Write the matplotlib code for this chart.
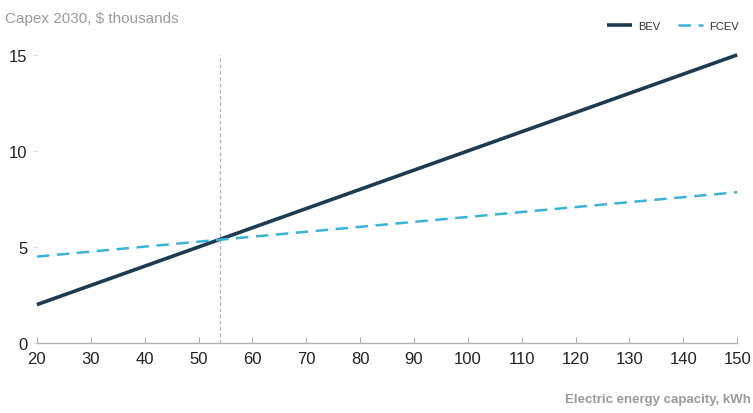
import matplotlib
matplotlib.use('Agg')
import matplotlib.pyplot as plt
from matplotlib import font_manager

# Font: narrow sans if available
names = {f.name for f in font_manager.fontManager.ttflist}
narrow = 'Liberation Sans Narrow' if 'Liberation Sans Narrow' in names else 'Liberation Sans'
plt.rcParams['font.family'] = [narrow, 'DejaVu Sans']

# Data
capacity_kwh = [20, 54, 150]
bev_capex = [2.0, 5.4, 15.0]
fcev_capex = [4.5, 5.38, 7.85]
crossover_kwh = 54
x_ticks = list(range(20, 151, 10))
y_ticks = [0, 5, 10, 15]

bev_color = '#1d3b50'
fcev_color = '#3bb3d6'
axis_gray = '#b0b0b0'
text_gray = '#9a9a9a'

fig = plt.figure(figsize=(7.53, 4.14), dpi=100, facecolor='white')
ax = fig.add_axes([0.049, 0.169, 0.930, 0.696])

ax.plot(capacity_kwh, bev_capex, color=bev_color, lw=2.6, label='BEV',
        solid_capstyle='butt', clip_on=False)
ax.plot(capacity_kwh, fcev_capex, color=fcev_color, lw=1.8, ls=(0, (5, 3)),
        label='FCEV', clip_on=False)
ax.axvline(crossover_kwh, color='#b4b4b4', lw=0.9, ls=(0, (3, 2)), zorder=0)

ax.set_xlim(20, 150)
ax.set_ylim(0, 15)
ax.set_xticks(x_ticks)
ax.set_yticks(y_ticks)

for s in ['top', 'right', 'left']:
    ax.spines[s].set_visible(False)
ax.spines['bottom'].set_color(axis_gray)
ax.spines['bottom'].set_linewidth(1.0)

ax.tick_params(axis='x', direction='in', length=4, color=axis_gray,
               labelsize=12, labelcolor='#222222', pad=6)
ax.tick_params(axis='y', direction='out', length=3, color='#dddddd',
               labelsize=12, labelcolor='#222222', pad=4)

fig.text(0.007, 0.955, 'Capex 2030, $ thousands', fontsize=11,
         color=text_gray, ha='left', va='center')
fig.text(0.997, 0.035, 'Electric energy capacity, kWh', fontsize=9.5,
         color=text_gray, ha='right', va='center', fontweight='bold')

leg = fig.legend(loc='center right', bbox_to_anchor=(0.995, 0.935), ncol=2,
                 frameon=False, fontsize=8, handlelength=2.2, columnspacing=1.6,
                 handletextpad=0.6)
for t in leg.get_texts():
    t.set_color('#333333')

fig.savefig('out.png', dpi=100, facecolor='white')
